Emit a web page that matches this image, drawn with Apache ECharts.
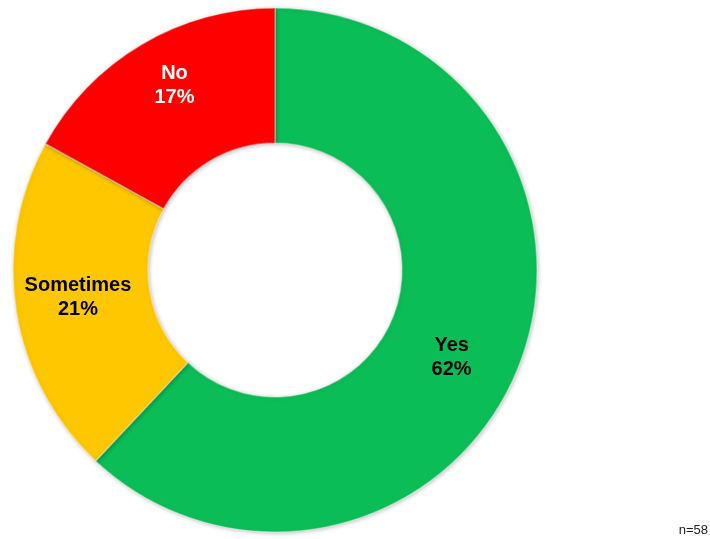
<!DOCTYPE html>
<html lang="en">
<head>
  <meta charset="UTF-8">
  <title>Donut</title>
  <script src="https://cdn.jsdelivr.net/npm/echarts@6/dist/echarts.min.js"></script>
  <style>
    html, body { margin: 0; padding: 0; background: #fff; }
    #main { width: 710px; height: 539px; }
  </style>
</head>
<body>
<div id="main"></div>
<script>
  // answers and shares
  var categories = ["Yes", "Sometimes", "No"];
  var shares = [62, 21, 17];
  var sliceColors = ["#0bbd57", "#ffc700", "#ff0000"];
  var labelColors = ["#000000", "#000000", "#ffffff"];
  var sampleNote = "n=58";

  // small nudges so labels sit where the original put them
  var labelNudge = { "Yes": [-7, 15], "Sometimes": [-2, -3], "No": [0, -15] };

  var pieData = categories.map(function (name, i) {
    return {
      name: name,
      value: shares[i],
      itemStyle: { color: sliceColors[i] },
      label: { color: labelColors[i], offset: labelNudge[name] }
    };
  });

  var chart = echarts.init(document.getElementById('main'));
  chart.setOption({
    animation: false,
    backgroundColor: '#ffffff',
    graphic: [{
      type: 'text',
      right: 2,
      bottom: 2,
      style: {
        text: sampleNote,
        fill: '#222',
        font: '13px "Liberation Sans", Arial, sans-serif'
      }
    }],
    series: [{
      type: 'pie',
      center: [275, 270],
      radius: [127, 262],
      startAngle: 90,
      clockwise: true,
      data: pieData,
      itemStyle: {
        borderColor: 'rgba(255,255,255,0.35)',
        borderWidth: 1.5,
        shadowBlur: 4,
        shadowColor: 'rgba(0,0,0,0.25)',
        shadowOffsetX: 1,
        shadowOffsetY: 1
      },
      label: {
        show: true,
        position: 'inside',
        formatter: function (p) { return p.name + '\n' + p.value + '%'; },
        fontFamily: '"Liberation Sans", Arial, sans-serif',
        fontWeight: 'bold',
        fontSize: 20,
        lineHeight: 24
      },
      labelLine: { show: false },
      emphasis: { disabled: true }
    }]
  });
</script>
</body>
</html>
